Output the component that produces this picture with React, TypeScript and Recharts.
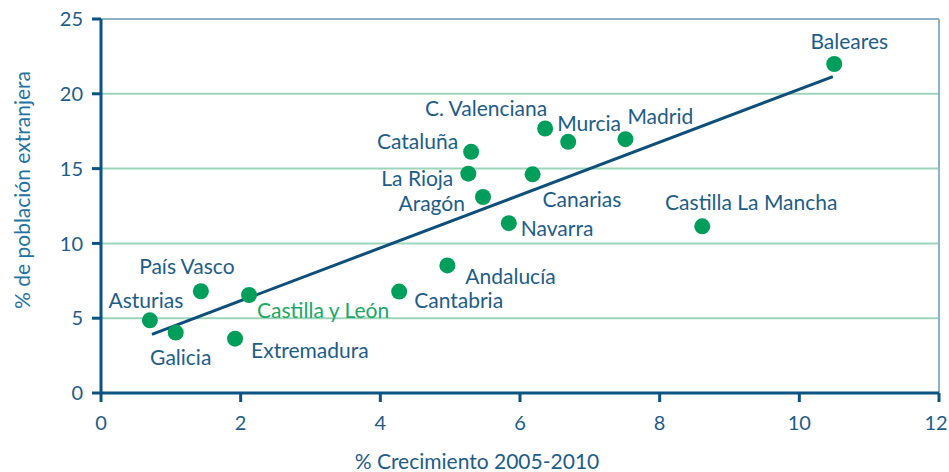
import React from 'react';
import { ScatterChart, Scatter, XAxis, YAxis, CartesianGrid, ReferenceLine, Label } from 'recharts';

const regions = ['Baleares', 'C. Valenciana', 'Murcia', 'Madrid', 'Cataluña', 'La Rioja', 'Canarias', 'Aragón', 'Navarra', 'Castilla La Mancha', 'Andalucía', 'Cantabria', 'Castilla y León', 'País Vasco', 'Asturias', 'Galicia', 'Extremadura'];
const growth = [10.5, 6.36, 6.69, 7.51, 5.3, 5.26, 6.18, 5.47, 5.84, 8.61, 4.96, 4.27, 2.12, 1.43, 0.7, 1.07, 1.92];
const foreignShare = [21.99, 17.68, 16.79, 16.97, 16.12, 14.66, 14.62, 13.1, 11.35, 11.14, 8.53, 6.78, 6.55, 6.8, 4.86, 4.04, 3.63];
const trendX = [0.73, 10.48];
const trendY = [3.92, 21.15];
const xTicks = [0, 2, 4, 6, 8, 10, 12];
const yTicks = [0, 5, 10, 15, 20, 25];

const FONT = 'Lato, "Open Sans", sans-serif';
const DARK = '#0b5382';
const TEXT = '#1d5d88';
const GREEN = '#009e5b';
const GRID = '#9dd5bb';
const BORDER = '#8eb0cb';
const FS = 21;
const TFS = 20;

type Off = { a: 'start' | 'middle' | 'end'; dx: number; dy: number; c?: string };
const labelLayout: Record<string, Off> = {
  'Baleares': { a: 'middle', dx: 15, dy: -24 },
  'C. Valenciana': { a: 'end', dx: 2, dy: -21 },
  'Murcia': { a: 'start', dx: -11, dy: -19 },
  'Madrid': { a: 'start', dx: 2, dy: -24 },
  'Cataluña': { a: 'end', dx: -13, dy: -11 },
  'La Rioja': { a: 'end', dx: -15, dy: 4 },
  'Canarias': { a: 'start', dx: 10, dy: 24 },
  'Aragón': { a: 'end', dx: -18, dy: 5 },
  'Navarra': { a: 'start', dx: 12, dy: 4 },
  'Castilla La Mancha': { a: 'middle', dx: 49, dy: -25 },
  'Andalucía': { a: 'start', dx: 18, dy: 10 },
  'Cantabria': { a: 'start', dx: 15, dy: 8 },
  'Castilla y León': { a: 'start', dx: 8, dy: 14, c: '#1aa865' },
  'País Vasco': { a: 'middle', dx: -14, dy: -26 },
  'Asturias': { a: 'middle', dx: -4, dy: -21 },
  'Galicia': { a: 'middle', dx: 5, dy: 24 },
  'Extremadura': { a: 'start', dx: 16, dy: 11 },
};

const points = regions.map((name, i) => ({ name, x: growth[i], y: foreignShare[i] }));
const trend = trendX.map((x, i) => ({ x, y: trendY[i] }));

const Dot = (props: any) => {
  const { cx, cy, payload } = props;
  const l = labelLayout[payload.name] || { a: 'start', dx: 10, dy: 0 };
  return (
    <g>
      <circle cx={cx} cy={cy} r={8} fill={GREEN} />
      <text
        x={cx + l.dx}
        y={cy + l.dy}
        textAnchor={l.a}
        dominantBaseline="central"
        fontFamily={FONT}
        fontSize={FS}
        fill={l.c || TEXT}
      >
        {payload.name}
      </text>
    </g>
  );
};

const NoShape = () => <g />;

const XTick = (props: any) => {
  const { x, y, payload } = props;
  const shift = payload.value === xTicks[xTicks.length - 1] ? -3 : 0;
  return (
    <text x={x + shift} y={y + 13} textAnchor="middle" dominantBaseline="central" fill={TEXT} fontSize={TFS} fontFamily={FONT}>
      {payload.value}
    </text>
  );
};

const XTitle = (props: any) => {
  const vb = props.viewBox || {};
  return (
    <text x={vb.x + vb.width / 2 - 43} y={vb.y + 67} textAnchor="middle" dominantBaseline="central" fill={TEXT} fontSize={FS} fontFamily={FONT}>
      % Crecimiento 2005-2010
    </text>
  );
};

const YTitle = (props: any) => {
  const vb = props.viewBox || {};
  const x = vb.x - 20;
  const y = vb.y + vb.height / 2 - 16;
  return (
    <text x={x} y={y} transform={`rotate(-90, ${x}, ${y})`} textAnchor="middle" dominantBaseline="central" fill="#2273a3" fontSize={FS} fontFamily={FONT}>
      % de población extranjera
    </text>
  );
};

export default function App() {
  return (
    <div style={{ position: 'absolute', left: 0, top: 0, background: '#fff' }}>
      <ScatterChart width={949} height={472} margin={{ top: 19, right: 10, bottom: 39, left: 41 }}>
        <CartesianGrid vertical={false} stroke={GRID} strokeWidth={2} />
        <ReferenceLine y={25} stroke={BORDER} strokeWidth={2} />
        <ReferenceLine x={12} stroke={BORDER} strokeWidth={2} />
        <XAxis
          type="number"
          dataKey="x"
          domain={[0, 12]}
          ticks={xTicks}
          height={40}
          stroke={DARK}
          strokeWidth={3}
          tickSize={9}
          tickMargin={7}
          tick={XTick}
        >
          <Label content={XTitle} />
        </XAxis>
        <YAxis
          type="number"
          dataKey="y"
          domain={[0, 25]}
          ticks={yTicks}
          width={60}
          stroke={DARK}
          strokeWidth={3}
          tickSize={9}
          tickMargin={9}
          tick={{ fill: TEXT, fontSize: TFS, fontFamily: FONT }}
        >
          <Label content={YTitle} />
        </YAxis>
        <Scatter data={trend} line={{ stroke: '#0d4f7a', strokeWidth: 3 }} shape={NoShape} isAnimationActive={false} />
        <Scatter data={points} shape={Dot} isAnimationActive={false} />
      </ScatterChart>
    </div>
  );
}
